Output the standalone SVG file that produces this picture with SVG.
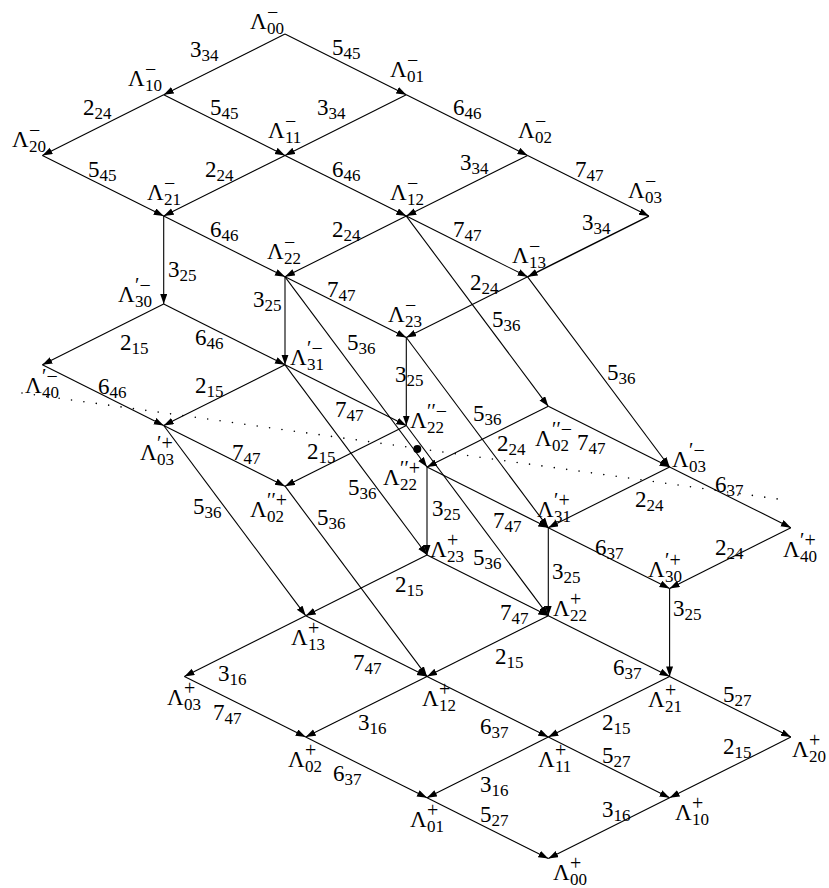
<svg xmlns="http://www.w3.org/2000/svg" width="829" height="888" viewBox="0 0 829 888">
<defs>
<marker id="ah" markerUnits="userSpaceOnUse" markerWidth="11" markerHeight="8" refX="10" refY="3.5" orient="auto"><path d="M0,0 L10,3.5 L0,7 z" fill="#000"/></marker>
<style>
.e line{stroke:#000;stroke-width:1.1;fill:none;marker-end:url(#ah)}
text{font-family:"Liberation Serif","DejaVu Serif",serif;font-size:23px;fill:#000}
.s{font-size:17px}
.p{font-size:20px}
.dots{stroke:#000;stroke-width:1.6;stroke-linecap:round;stroke-dasharray:0 12.5;fill:none}
</style>
</defs>
<rect width="829" height="888" fill="#fff"/>
<line class="dots" x1="22" y1="393" x2="778" y2="499"/>
<circle cx="417.3" cy="449" r="4" fill="#000"/>
<g id="connectors" class="e">
<g><line x1="285" y1="34" x2="163.7" y2="94.7"/><text x="190" y="57">3<tspan class="s" dy="4">34</tspan></text></g>
<g><line x1="285" y1="34" x2="406.3" y2="94.7"/><text x="332" y="55">5<tspan class="s" dy="4">45</tspan></text></g>
<g><line x1="163.7" y1="94.7" x2="42.4" y2="155.4"/><text x="83" y="115">2<tspan class="s" dy="4">24</tspan></text></g>
<g><line x1="163.7" y1="94.7" x2="285" y2="155.4"/><text x="210" y="115">5<tspan class="s" dy="4">45</tspan></text></g>
<g><line x1="406.3" y1="94.7" x2="285" y2="155.4"/><text x="317" y="115">3<tspan class="s" dy="4">34</tspan></text></g>
<g><line x1="406.3" y1="94.7" x2="527.6" y2="155.4"/><text x="453" y="115">6<tspan class="s" dy="4">46</tspan></text></g>
<g><line x1="42.4" y1="155.4" x2="163.7" y2="216.1"/><text x="88" y="177">5<tspan class="s" dy="4">45</tspan></text></g>
<g><line x1="285" y1="155.4" x2="163.7" y2="216.1"/><text x="205" y="177">2<tspan class="s" dy="4">24</tspan></text></g>
<g><line x1="285" y1="155.4" x2="406.3" y2="216.1"/><text x="332" y="177">6<tspan class="s" dy="4">46</tspan></text></g>
<g><line x1="527.6" y1="155.4" x2="406.3" y2="216.1"/><text x="460" y="170">3<tspan class="s" dy="4">34</tspan></text></g>
<g><line x1="527.6" y1="155.4" x2="648.9" y2="216.1"/><text x="575" y="177">7<tspan class="s" dy="4">47</tspan></text></g>
<g><line x1="163.7" y1="216.1" x2="285" y2="276.8"/><text x="210" y="237">6<tspan class="s" dy="4">46</tspan></text></g>
<g><line x1="406.3" y1="216.1" x2="285" y2="276.8"/><text x="332" y="237">2<tspan class="s" dy="4">24</tspan></text></g>
<g><line x1="406.3" y1="216.1" x2="527.6" y2="276.8"/><text x="453" y="237">7<tspan class="s" dy="4">47</tspan></text></g>
<g><line x1="648.9" y1="216.1" x2="527.6" y2="276.8" style="stroke-width:1.5"/><text x="582" y="230">3<tspan class="s" dy="4">34</tspan></text></g>
<g><line x1="285" y1="276.8" x2="406.3" y2="337.5"/><text x="327" y="297">7<tspan class="s" dy="4">47</tspan></text></g>
<g><line x1="527.6" y1="276.8" x2="406.3" y2="337.5"/><text x="470" y="290">2<tspan class="s" dy="4">24</tspan></text></g>
<g><line x1="163.7" y1="216.1" x2="163.7" y2="304.1"/><text x="168" y="277">3<tspan class="s" dy="4">25</tspan></text></g>
<g><line x1="285" y1="276.8" x2="285" y2="364.8"/><text x="253" y="307">3<tspan class="s" dy="4">25</tspan></text></g>
<g><line x1="406.3" y1="337.5" x2="406.3" y2="425.5"/><text x="395" y="382">3<tspan class="s" dy="4">25</tspan></text></g>
<g><line x1="163.7" y1="304.1" x2="42.4" y2="364.8"/><text x="120" y="350">2<tspan class="s" dy="4">15</tspan></text></g>
<g><line x1="163.7" y1="304.1" x2="285" y2="364.8"/><text x="195" y="345">6<tspan class="s" dy="4">46</tspan></text></g>
<g><line x1="42.4" y1="364.8" x2="163.7" y2="425.5"/><text x="98" y="394">6<tspan class="s" dy="4">46</tspan></text></g>
<g><line x1="285" y1="364.8" x2="163.7" y2="425.5"/><text x="195" y="393">2<tspan class="s" dy="4">15</tspan></text></g>
<g><line x1="285" y1="364.8" x2="406.3" y2="425.5"/><text x="335" y="417">7<tspan class="s" dy="4">47</tspan></text></g>
<g><line x1="285" y1="276.8" x2="427" y2="467"/><text x="347" y="350">5<tspan class="s" dy="4">36</tspan></text></g>
<g><line x1="406.3" y1="216.1" x2="548.3" y2="406.3"/><text x="492" y="327">5<tspan class="s" dy="4">36</tspan></text></g>
<g><line x1="527.6" y1="276.8" x2="669.6" y2="467"/><text x="607" y="380">5<tspan class="s" dy="4">36</tspan></text></g>
<g><line x1="406.3" y1="337.5" x2="548.3" y2="527.7"/><text x="473" y="421">5<tspan class="s" dy="4">36</tspan></text></g>
<g><line x1="163.7" y1="425.5" x2="285" y2="486.2"/><text x="232" y="460">7<tspan class="s" dy="4">47</tspan></text></g>
<g><line x1="406.3" y1="425.5" x2="285" y2="486.2"/><text x="307" y="459">2<tspan class="s" dy="4">15</tspan></text></g>
<g><line x1="163.7" y1="425.5" x2="305.7" y2="615.7"/><text x="193" y="514">5<tspan class="s" dy="4">36</tspan></text></g>
<g><line x1="285" y1="486.2" x2="427" y2="676.4"/><text x="317" y="525">5<tspan class="s" dy="4">36</tspan></text></g>
<g><line x1="285" y1="364.8" x2="427" y2="555"/><text x="348" y="495">5<tspan class="s" dy="4">36</tspan></text></g>
<g><line x1="548.3" y1="406.3" x2="427" y2="467"/><text x="497" y="451">2<tspan class="s" dy="4">24</tspan></text></g>
<g><line x1="548.3" y1="406.3" x2="669.6" y2="467"/><text x="577" y="450">7<tspan class="s" dy="4">47</tspan></text></g>
<g><line x1="669.6" y1="467" x2="548.3" y2="527.7"/><text x="635" y="507">2<tspan class="s" dy="4">24</tspan></text></g>
<g><line x1="669.6" y1="467" x2="790.9" y2="527.7"/><text x="715" y="492">6<tspan class="s" dy="4">37</tspan></text></g>
<g><line x1="427" y1="467" x2="427" y2="555"/><text x="432" y="516">3<tspan class="s" dy="4">25</tspan></text></g>
<g><line x1="427" y1="467" x2="548.3" y2="527.7"/><text x="493" y="528">7<tspan class="s" dy="4">47</tspan></text></g>
<g><line x1="406.3" y1="425.5" x2="548.3" y2="615.7"/><text x="473" y="565">5<tspan class="s" dy="4">36</tspan></text></g>
<g><line x1="548.3" y1="527.7" x2="669.6" y2="588.4"/><text x="595" y="555">6<tspan class="s" dy="4">37</tspan></text></g>
<g><line x1="790.9" y1="527.7" x2="669.6" y2="588.4"/><text x="715" y="555">2<tspan class="s" dy="4">24</tspan></text></g>
<g><line x1="548.3" y1="527.7" x2="548.3" y2="615.7"/><text x="552" y="579">3<tspan class="s" dy="4">25</tspan></text></g>
<g><line x1="669.6" y1="588.4" x2="669.6" y2="676.4"/><text x="673" y="616">3<tspan class="s" dy="4">25</tspan></text></g>
<g><line x1="427" y1="555" x2="305.7" y2="615.7"/><text x="395" y="592">2<tspan class="s" dy="4">15</tspan></text></g>
<g><line x1="427" y1="555" x2="548.3" y2="615.7"/><text x="500" y="620">7<tspan class="s" dy="4">47</tspan></text></g>
<g><line x1="305.7" y1="615.7" x2="184.4" y2="676.4"/><text x="218" y="681">3<tspan class="s" dy="4">16</tspan></text></g>
<g><line x1="305.7" y1="615.7" x2="427" y2="676.4"/><text x="353" y="670">7<tspan class="s" dy="4">47</tspan></text></g>
<g><line x1="548.3" y1="615.7" x2="427" y2="676.4"/><text x="495" y="664">2<tspan class="s" dy="4">15</tspan></text></g>
<g><line x1="548.3" y1="615.7" x2="669.6" y2="676.4"/><text x="613" y="675">6<tspan class="s" dy="4">37</tspan></text></g>
<g><line x1="184.4" y1="676.4" x2="305.7" y2="737.1"/><text x="213" y="720">7<tspan class="s" dy="4">47</tspan></text></g>
<g><line x1="427" y1="676.4" x2="305.7" y2="737.1"/><text x="358" y="730">3<tspan class="s" dy="4">16</tspan></text></g>
<g><line x1="427" y1="676.4" x2="548.3" y2="737.1"/><text x="480" y="734">6<tspan class="s" dy="4">37</tspan></text></g>
<g><line x1="669.6" y1="676.4" x2="548.3" y2="737.1"/><text x="602" y="730">2<tspan class="s" dy="4">15</tspan></text></g>
<g><line x1="669.6" y1="676.4" x2="790.9" y2="737.1"/><text x="723" y="702">5<tspan class="s" dy="4">27</tspan></text></g>
<g><line x1="305.7" y1="737.1" x2="427" y2="797.8"/><text x="333" y="781">6<tspan class="s" dy="4">37</tspan></text></g>
<g><line x1="548.3" y1="737.1" x2="427" y2="797.8"/><text x="480" y="792">3<tspan class="s" dy="4">16</tspan></text></g>
<g><line x1="548.3" y1="737.1" x2="669.6" y2="797.8"/><text x="602" y="763">5<tspan class="s" dy="4">27</tspan></text></g>
<g><line x1="790.9" y1="737.1" x2="669.6" y2="797.8"/><text x="723" y="754">2<tspan class="s" dy="4">15</tspan></text></g>
<g><line x1="427" y1="797.8" x2="548.3" y2="858.5"/><text x="480" y="822">5<tspan class="s" dy="4">27</tspan></text></g>
<g><line x1="669.6" y1="797.8" x2="548.3" y2="858.5"/><text x="602" y="817">3<tspan class="s" dy="4">16</tspan></text></g>
</g>
<g id="n00m"><text x="250" y="29">Λ<tspan class="s" x="267" dy="5">00</tspan><tspan class="p" x="267" dy="-15">−</tspan></text></g>
<g id="n10m"><text x="128" y="86">Λ<tspan class="s" x="145" dy="5">10</tspan><tspan class="p" x="145" dy="-15">−</tspan></text></g>
<g id="n01m"><text x="390" y="77">Λ<tspan class="s" x="407" dy="5">01</tspan><tspan class="p" x="407" dy="-15">−</tspan></text></g>
<g id="n20m"><text x="12" y="147">Λ<tspan class="s" x="29" dy="5">20</tspan><tspan class="p" x="29" dy="-15">−</tspan></text></g>
<g id="n11m"><text x="268" y="138">Λ<tspan class="s" x="285" dy="5">11</tspan><tspan class="p" x="285" dy="-15">−</tspan></text></g>
<g id="n02m"><text x="518" y="138">Λ<tspan class="s" x="535" dy="5">02</tspan><tspan class="p" x="535" dy="-15">−</tspan></text></g>
<g id="n21m"><text x="147" y="200">Λ<tspan class="s" x="164" dy="5">21</tspan><tspan class="p" x="164" dy="-15">−</tspan></text></g>
<g id="n12m"><text x="390" y="200">Λ<tspan class="s" x="407" dy="5">12</tspan><tspan class="p" x="407" dy="-15">−</tspan></text></g>
<g id="n03m"><text x="628" y="198">Λ<tspan class="s" x="645" dy="5">03</tspan><tspan class="p" x="645" dy="-15">−</tspan></text></g>
<g id="n22m"><text x="267" y="259">Λ<tspan class="s" x="284" dy="5">22</tspan><tspan class="p" x="284" dy="-15">−</tspan></text></g>
<g id="n13m"><text x="512" y="263">Λ<tspan class="s" x="529" dy="5">13</tspan><tspan class="p" x="529" dy="-15">−</tspan></text></g>
<g id="n23m"><text x="388" y="322">Λ<tspan class="s" x="405" dy="5">23</tspan><tspan class="p" x="405" dy="-15">−</tspan></text></g>
<g id="np30m"><text x="118" y="302">Λ<tspan class="s" x="135" dy="5">30</tspan><tspan class="p" x="135" dy="-15">′−</tspan></text></g>
<g id="np31m"><text x="290" y="365">Λ<tspan class="s" x="307" dy="5">31</tspan><tspan class="p" x="307" dy="-15">′−</tspan></text></g>
<g id="np40m"><text x="25" y="393">Λ<tspan class="s" x="42" dy="5">40</tspan><tspan class="p" x="42" dy="-15">′−</tspan></text></g>
<g id="npp22m"><text x="410" y="428">Λ<tspan class="s" x="427" dy="5">22</tspan><tspan class="p" x="427" dy="-15">′′−</tspan></text></g>
<g id="np03p"><text x="140" y="460">Λ<tspan class="s" x="157" dy="5">03</tspan><tspan class="p" x="157" dy="-15">′+</tspan></text></g>
<g id="npp02p"><text x="250" y="517">Λ<tspan class="s" x="267" dy="5">02</tspan><tspan class="p" x="267" dy="-15">′′+</tspan></text></g>
<g id="npp22p"><text x="383" y="485">Λ<tspan class="s" x="400" dy="5">22</tspan><tspan class="p" x="400" dy="-15">′′+</tspan></text></g>
<g id="npp02m"><text x="535" y="446">Λ<tspan class="s" x="552" dy="5">02</tspan><tspan class="p" x="552" dy="-15">′′−</tspan></text></g>
<g id="np03m"><text x="672" y="467">Λ<tspan class="s" x="689" dy="5">03</tspan><tspan class="p" x="689" dy="-15">′−</tspan></text></g>
<g id="np31p"><text x="537" y="517">Λ<tspan class="s" x="554" dy="5">31</tspan><tspan class="p" x="554" dy="-15">′+</tspan></text></g>
<g id="np40p"><text x="783" y="557">Λ<tspan class="s" x="800" dy="5">40</tspan><tspan class="p" x="800" dy="-15">′+</tspan></text></g>
<g id="np30p"><text x="648" y="577">Λ<tspan class="s" x="665" dy="5">30</tspan><tspan class="p" x="665" dy="-15">′+</tspan></text></g>
<g id="n23p"><text x="430" y="557">Λ<tspan class="s" x="447" dy="5">23</tspan><tspan class="p" x="447" dy="-15">+</tspan></text></g>
<g id="n22p"><text x="553" y="616">Λ<tspan class="s" x="570" dy="5">22</tspan><tspan class="p" x="570" dy="-15">+</tspan></text></g>
<g id="n13p"><text x="291" y="645">Λ<tspan class="s" x="308" dy="5">13</tspan><tspan class="p" x="308" dy="-15">+</tspan></text></g>
<g id="n03p"><text x="167" y="705">Λ<tspan class="s" x="184" dy="5">03</tspan><tspan class="p" x="184" dy="-15">+</tspan></text></g>
<g id="n12p"><text x="422" y="706">Λ<tspan class="s" x="439" dy="5">12</tspan><tspan class="p" x="439" dy="-15">+</tspan></text></g>
<g id="n02p"><text x="288" y="767">Λ<tspan class="s" x="305" dy="5">02</tspan><tspan class="p" x="305" dy="-15">+</tspan></text></g>
<g id="n21p"><text x="648" y="707">Λ<tspan class="s" x="665" dy="5">21</tspan><tspan class="p" x="665" dy="-15">+</tspan></text></g>
<g id="n11p"><text x="538" y="767">Λ<tspan class="s" x="555" dy="5">11</tspan><tspan class="p" x="555" dy="-15">+</tspan></text></g>
<g id="n20p"><text x="792" y="757">Λ<tspan class="s" x="809" dy="5">20</tspan><tspan class="p" x="809" dy="-15">+</tspan></text></g>
<g id="n01p"><text x="410" y="827">Λ<tspan class="s" x="427" dy="5">01</tspan><tspan class="p" x="427" dy="-15">+</tspan></text></g>
<g id="n10p"><text x="675" y="820">Λ<tspan class="s" x="692" dy="5">10</tspan><tspan class="p" x="692" dy="-15">+</tspan></text></g>
<g id="n00p"><text x="553" y="880">Λ<tspan class="s" x="570" dy="5">00</tspan><tspan class="p" x="570" dy="-15">+</tspan></text></g>
</svg>
